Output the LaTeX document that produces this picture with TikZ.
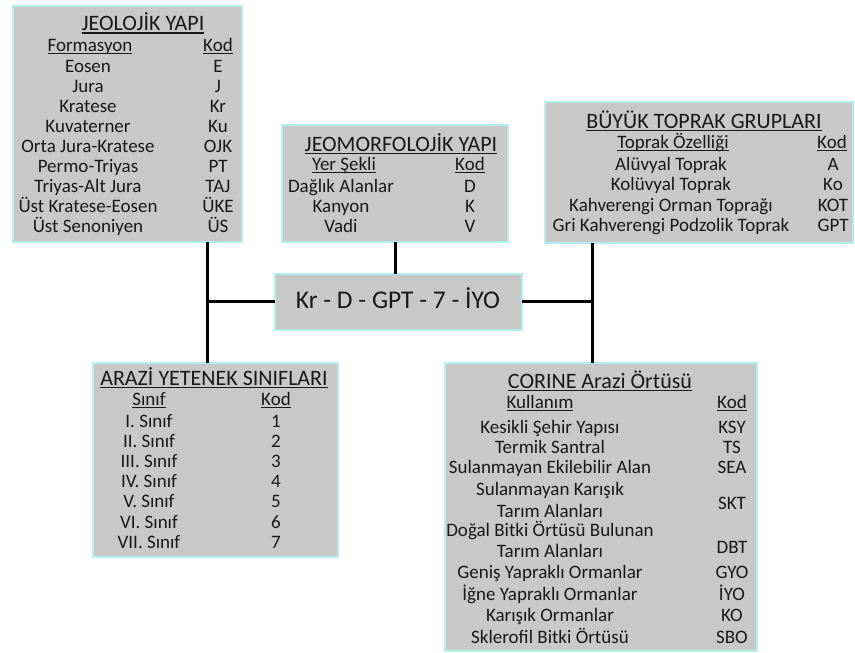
\documentclass[tikz,border=0pt]{standalone}
\usepackage{fontspec}
\setmainfont{Carlito}
\definecolor{boxgray}{RGB}{200,200,200}
\definecolor{glow}{RGB}{178,240,240}
\definecolor{ink}{RGB}{25,25,25}
\newcommand\ulx[1]{\setbox0\hbox{#1}\rlap{\rule[-2.9pt]{\wd0}{1.3pt}}\box0}
\begin{document}
\begin{tikzpicture}[x=1pt,y=-1pt,
  panel/.style={draw=glow, line width=2.5pt, fill=boxgray, anchor=north west, inner sep=0pt, outer sep=0pt},
  ttl/.style={anchor=base, inner sep=0pt, font=\fontsize{22}{26}\selectfont, text=ink},
  cell/.style={anchor=base, inner sep=0pt, font=\fontsize{19}{22}\selectfont, text=ink},
  link/.style={line width=3pt, black}]
\useasboundingbox[fill=white] (0,0) rectangle (855,653);

% panels
\node[panel, minimum width=229pt, minimum height=236pt] (b1) at (13,6) {};
\node[panel, minimum width=226pt, minimum height=117pt] (b2) at (282,125) {};
\node[panel, minimum width=308pt, minimum height=141pt] (b3) at (545,102) {};
\node[panel, minimum width=247pt, minimum height=56pt] (bc) at (275,274) {};
\node[panel, minimum width=245pt, minimum height=194pt] (b4) at (93,363) {};
\node[panel, minimum width=312pt, minimum height=288pt] (b5) at (445,363) {};

% connectors
\coordinate (jl) at (207,301);
\coordinate (jm) at (395,301);
\coordinate (jr) at (592,301);
\draw[link] (jl |- b1.south) -- (jl |- b4.north);
\draw[link] (jl) -- (jl -| bc.west);
\draw[link] (jm |- b2.south) -- (jm |- bc.north);
\draw[link] (jr |- b3.south) -- (jr |- b5.north);
\draw[link] (bc.east |- jr) -- (jr);

% box 1
\node[ttl] (b1t) at (143,30.7) {\ulx{JEOLOJİK YAPI}};
\node[cell] (b1h1) at (90,51.5) {\ulx{Formasyon}};
\node[cell] (b1h2) at (218,51.5) {\ulx{Kod}};
\foreach \n/\k [count=\i from 0] in {Eosen/E, Jura/J, Kratese/Kr, Kuvaterner/Ku, Orta Jura-Kratese/OJK, Permo-Triyas/PT, Triyas-Alt Jura/TAJ, Üst Kratese-Eosen/ÜKE, Üst Senoniyen/ÜS}{
  \node[cell] (b1a\i) at (88,{72.7+20*\i}) {\n};
  \node[cell] (b1b\i) at (218,{72.7+20*\i}) {\k};
}

% box 2
\node[ttl] (b2t) at (401,151) {\ulx{JEOMORFOLOJİK YAPI}};
\node[cell] (b2h1) at (344,170) {\ulx{Yer Şekli}};
\node[cell] (b2h2) at (470,170) {\ulx{Kod}};
\foreach \n/\k [count=\i from 0] in {Dağlık Alanlar/D, Kanyon/K, Vadi/V}{
  \node[cell] (b2a\i) at (341,{192+20*\i}) {\n};
  \node[cell] (b2b\i) at (470,{192+20*\i}) {\k};
}

% box 3
\node[ttl] (b3t) at (704,128) {\ulx{BÜYÜK TOPRAK GRUPLARI}};
\node[cell] (b3h1) at (673,148) {\ulx{Toprak Özelliği}};
\node[cell] (b3h2) at (832,148) {\ulx{Kod}};
\foreach \n/\k [count=\i from 0] in {Alüvyal Toprak/A, Kolüvyal Toprak/Ko, Kahverengi Orman Toprağı/KOT, Gri Kahverengi Podzolik Toprak/GPT}{
  \node[cell] (b3a\i) at (671,{170+20.5*\i}) {\n};
  \node[cell] (b3b\i) at (833,{170+20.5*\i}) {\k};
}

% center
\node[anchor=base, inner sep=0pt, font=\fontsize{25.5}{30}\selectfont, text=ink] (ct) at (398,308) {Kr - D - GPT - 7 - İYO};

% box 4
\node[ttl] (b4t) at (214,385) {\ulx{ARAZİ YETENEK SINIFLARI}};
\node[cell] (b4h1) at (149,405) {\ulx{Sınıf}};
\node[cell] (b4h2) at (276,405) {\ulx{Kod}};
\foreach \n/\k [count=\i from 0] in {I. Sınıf/1, II. Sınıf/2, III. Sınıf/3, IV. Sınıf/4, V. Sınıf/5, VI. Sınıf/6, VII. Sınıf/7}{
  \node[cell] (b4a\i) at (149,{427+20.2*\i}) {\n};
  \node[cell] (b4b\i) at (276,{427+20.2*\i}) {\k};
}

% box 5
\node[ttl] (b5t) at (600,388) {\ulx{CORINE Arazi Örtüsü}};
\node[cell] (b5h1) at (540,408) {\ulx{Kullanım}};
\node[cell] (b5h2) at (732,408) {\ulx{Kod}};
\node[cell] (b5a1) at (550,433) {Kesikli Şehir Yapısı};
\node[cell] (b5b1) at (732,433) {KSY};
\node[cell] (b5a2) at (550,453) {Termik Santral};
\node[cell] (b5b2) at (732,453) {TS};
\node[cell] (b5a3) at (550,473) {Sulanmayan Ekilebilir Alan};
\node[cell] (b5b3) at (732,473) {SEA};
\node[cell] (b5a4) at (550,495) {Sulanmayan Karışık};
\node[cell] (b5a4b) at (550,517) {Tarım Alanları};
\node[cell] (b5b4) at (732,509) {SKT};
\node[cell] (b5a5) at (550,536) {Doğal Bitki Örtüsü Bulunan};
\node[cell] (b5a5b) at (550,557) {Tarım Alanları};
\node[cell] (b5b5) at (732,553) {DBT};
\node[cell] (b5a6) at (550,578) {Geniş Yapraklı Ormanlar};
\node[cell] (b5b6) at (732,578) {GYO};
\node[cell] (b5a7) at (550,600) {İğne Yapraklı Ormanlar};
\node[cell] (b5b7) at (732,600) {İYO};
\node[cell] (b5a8) at (550,621.5) {Karışık Ormanlar};
\node[cell] (b5b8) at (732,621.5) {KO};
\node[cell] (b5a9) at (550,643) {Sklerofil Bitki Örtüsü};
\node[cell] (b5b9) at (732,643) {SBO};
\end{tikzpicture}
\end{document}
